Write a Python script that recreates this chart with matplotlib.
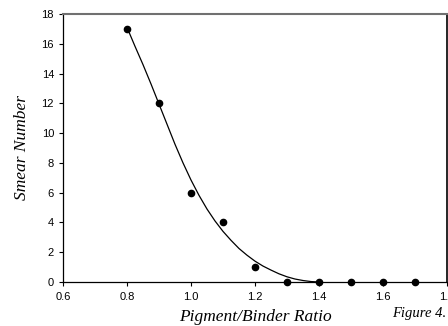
import matplotlib
matplotlib.use("Agg")
import matplotlib.pyplot as plt

# measured data points
ratio = [0.8, 0.9, 1.0, 1.1, 1.2, 1.3, 1.4, 1.5, 1.6, 1.7]
smear = [17, 12, 6, 4, 1, 0, 0, 0, 0, 0]

# fitted curve
fit_x = [0.800, 0.825, 0.850, 0.875, 0.900, 0.925, 0.950, 0.975, 1.000,
         1.025, 1.050, 1.075, 1.100, 1.125, 1.150, 1.175, 1.200, 1.225,
         1.250, 1.275, 1.300, 1.325, 1.350, 1.375, 1.400]
fit_y = [17.1, 15.83, 14.6, 13.3, 11.95, 10.6, 9.25, 8.0, 6.85,
         5.82, 4.9, 4.1, 3.4, 2.8, 2.25, 1.8, 1.4, 1.07,
         0.8, 0.55, 0.35, 0.2, 0.1, 0.03, 0.0]

x_ticks = [0.6, 0.8, 1.0, 1.2, 1.4, 1.6, 1.8]
y_ticks = [0, 2, 4, 6, 8, 10, 12, 14, 16, 18]

fig = plt.figure(figsize=(4.48, 3.26), dpi=100)
ax = fig.add_axes([63/448, 1-282/326, 384/448, 268/326])

ax.plot(fit_x, fit_y, color='black', lw=0.9, clip_on=False, zorder=2)
ax.plot(ratio, smear, 'o', color='black', ms=4.5, clip_on=False, zorder=3)

ax.set_xlim(0.6, 1.8)
ax.set_ylim(0, 18)
ax.set_xticks(x_ticks)
ax.set_yticks(y_ticks)
ax.set_xticklabels([f"{v:.1f}" for v in x_ticks])
ax.set_yticklabels([str(v) for v in y_ticks])
ax.tick_params(direction='out', length=3, width=0.8, labelsize=8,
               top=False, right=False)
ax.tick_params(axis='x', pad=4.5)
ax.tick_params(axis='y', pad=3.5)
for lab in ax.get_xticklabels() + ax.get_yticklabels():
    lab.set_fontfamily('Liberation Sans')

ax.spines['top'].set_color('#707070')
ax.spines['top'].set_linewidth(1.5)
ax.spines['right'].set_color('black')
ax.spines['right'].set_linewidth(1.2)
ax.spines['left'].set_linewidth(0.9)
ax.spines['bottom'].set_linewidth(0.9)

ax.set_xlabel('Pigment/Binder Ratio', fontfamily='Liberation Serif',
              fontstyle='italic', fontsize=12.5, labelpad=5)
ax.set_ylabel('Smear Number', fontfamily='Liberation Serif',
              fontstyle='italic', fontsize=12.5, labelpad=8)

fig.text(392/448, 1-313/326, 'Figure 4.', fontfamily='Liberation Serif',
         fontstyle='italic', fontsize=10.5, ha='left', va='center')

fig.savefig('out.png', dpi=100)
